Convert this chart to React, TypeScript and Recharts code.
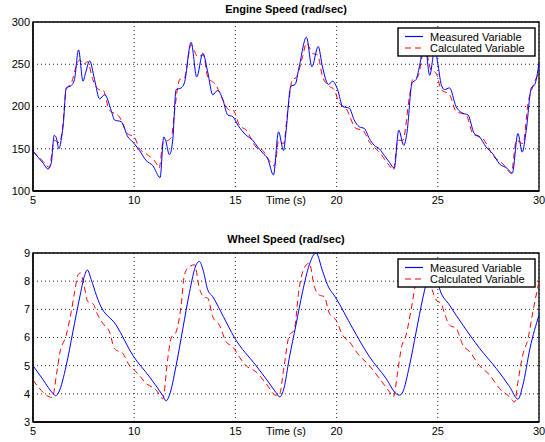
import React from "react";
import { CartesianGrid, Line, LineChart, ReferenceArea, XAxis, YAxis } from "recharts";

const timeTicks = [5, 10, 15, 20, 25, 30];
const engineTicks = [100, 150, 200, 250, 300];
const wheelTicks = [3, 4, 5, 6, 7, 8, 9];
const seriesNames = ["Measured Variable", "Calculated Variable"];

// [time (s), value]
const engineMeasured: [number, number][] = [
  [5, 147], [5.25, 140], [5.5, 133], [5.74, 126], [5.9, 133], [6.05, 166], [6.15, 163], [6.28, 150], [6.42, 165],
  [6.5, 180], [6.64, 222], [6.9, 225], [7.05, 232], [7.25, 267], [7.47, 230], [7.6, 240], [7.8, 254], [8.04, 232],
  [8.29, 209], [8.54, 214], [8.87, 195], [9.03, 184], [9.36, 182], [9.69, 164], [9.93, 158], [10.26, 148], [10.59, 136],
  [10.92, 130], [11.28, 116], [11.46, 164], [11.55, 160], [11.74, 143], [11.9, 159], [12.07, 220], [12.32, 222],
  [12.48, 228], [12.81, 276], [13.09, 235], [13.39, 263], [13.63, 241], [13.88, 214], [14.13, 219], [14.38, 208],
  [14.62, 190], [14.87, 188], [15.12, 178], [15.53, 166], [15.86, 160], [16.1, 152], [16.35, 145], [16.6, 138],
  [16.88, 119], [17.13, 170], [17.38, 148], [17.49, 168], [17.74, 224], [17.95, 226], [18.15, 247], [18.51, 282],
  [18.78, 247], [19.09, 271], [19.3, 247], [19.6, 226], [19.8, 230], [20.05, 220], [20.3, 200], [20.63, 198],
  [20.87, 184], [21.12, 176], [21.37, 174], [21.62, 162], [21.86, 154], [22.11, 150], [22.36, 142], [22.61, 134],
  [22.85, 127], [23.07, 172], [23.32, 154], [23.47, 168], [23.73, 228], [23.93, 232], [24.09, 247], [24.35, 278],
  [24.6, 237], [24.85, 268], [25.0, 251], [25.17, 226], [25.33, 220], [25.58, 222], [25.9, 200], [26.24, 192],
  [26.49, 190], [26.8, 168], [27.06, 164], [27.39, 152], [27.72, 144], [28.05, 132], [28.42, 127], [28.68, 121],
  [28.96, 168], [29.17, 146], [29.37, 172], [29.62, 222], [29.79, 226], [30, 251]
];

const engineCalculated: [number, number][] = [
  [5, 147], [5.5, 135], [5.8, 128], [6.05, 160], [6.3, 157], [6.45, 172], [6.64, 220], [6.9, 228], [7.2, 252],
  [7.3, 255], [7.5, 250], [7.7, 253], [7.95, 232], [8.29, 220], [8.45, 220], [8.77, 196], [9.26, 188], [9.67, 168],
  [10.0, 164], [10.26, 150], [10.59, 144], [11.09, 133], [11.23, 127], [11.43, 158], [11.68, 160], [11.84, 164],
  [12.0, 196], [12.25, 232], [12.48, 234], [12.81, 273], [13.14, 259], [13.42, 261], [13.63, 235], [14.05, 225],
  [14.3, 212], [14.71, 196], [14.87, 196], [15.2, 178], [15.53, 172], [16.02, 152], [16.35, 148], [16.68, 136],
  [16.9, 130], [17.0, 136], [17.13, 160], [17.38, 156], [17.57, 192], [17.82, 232], [17.99, 234], [18.32, 259],
  [18.51, 275], [18.81, 263], [19.06, 261], [19.31, 235], [19.64, 224], [19.88, 220], [20.13, 204], [20.46, 198],
  [20.96, 174], [21.29, 172], [21.62, 158], [22.11, 146], [22.61, 130], [22.81, 125], [23.02, 160], [23.27, 160],
  [23.6, 212], [23.76, 232], [24.01, 235], [24.35, 270], [24.67, 243], [24.9, 240], [25.17, 220], [25.58, 214],
  [25.91, 194], [26.4, 190], [26.73, 168], [27.23, 162], [27.72, 142], [28.22, 132], [28.63, 121], [28.88, 160],
  [29.21, 156], [29.46, 204], [29.7, 224], [30, 240]
];

const wheelMeasured: [number, number][] = [
  [5, 5.0], [5.5, 4.5], [6.0, 4.0], [6.12, 3.93], [6.28, 4.07], [6.64, 5.0], [6.97, 6.2], [7.3, 7.4], [7.55, 8.2],
  [7.68, 8.4], [7.88, 8.05], [8.13, 7.5], [8.29, 7.2], [9.11, 6.44], [9.93, 5.37], [10.76, 4.6], [11.4, 3.95],
  [11.58, 3.75], [11.74, 3.95], [12.07, 5.0], [12.4, 6.3], [12.73, 7.6], [13.06, 8.58], [13.22, 8.7], [13.42, 8.35],
  [13.63, 7.7], [13.88, 7.45], [14.4, 6.75], [14.95, 6.0], [16.02, 5.0], [16.6, 4.45], [17.0, 4.05], [17.19, 3.89],
  [17.4, 4.2], [17.66, 5.26], [17.99, 6.44], [18.32, 7.63], [18.65, 8.58], [18.98, 9.0], [19.31, 8.35], [19.55, 7.87],
  [19.97, 7.4], [20.79, 6.33], [21.62, 5.32], [22.44, 4.55], [22.95, 4.0], [23.1, 3.95], [23.27, 4.07], [23.6, 5.0],
  [23.93, 6.2], [24.26, 7.4], [24.42, 7.9], [24.7, 8.6], [24.9, 8.3], [25.08, 7.75], [25.58, 7.15], [26.24, 6.44],
  [27.06, 5.62], [27.89, 4.9], [28.55, 4.25], [28.96, 3.81], [29.2, 4.3], [29.55, 5.6], [30, 6.8]
];

const wheelCalculated: [number, number][] = [
  [5, 4.48], [5.2, 4.3], [5.66, 3.95], [5.95, 3.87], [6.18, 4.78], [6.32, 5.43], [6.64, 6.08], [6.89, 6.92],
  [7.06, 7.63], [7.22, 8.22], [7.34, 8.29], [7.5, 7.93], [7.71, 7.27], [7.96, 7.2], [8.2, 6.8], [8.45, 6.5],
  [8.78, 6.2], [9.03, 5.6], [9.44, 5.43], [9.77, 5.0], [10.1, 4.78], [10.59, 4.37], [11.09, 4.13], [11.41, 3.83],
  [11.66, 5.26], [11.82, 5.97], [12.07, 6.2], [12.32, 7.15], [12.48, 8.22], [12.73, 8.52], [12.98, 8.58],
  [13.22, 7.75], [13.42, 7.45], [13.63, 7.4], [13.88, 6.74], [14.21, 6.44], [14.54, 5.85], [14.87, 5.67],
  [15.2, 5.3], [15.53, 5.0], [16.02, 4.78], [16.51, 4.37], [17.0, 3.95], [17.16, 3.95], [17.41, 5.0], [17.66, 6.08],
  [17.9, 6.26], [18.15, 7.75], [18.4, 8.47], [18.65, 8.64], [18.9, 7.81], [19.14, 7.51], [19.39, 7.45], [19.64, 6.86],
  [19.97, 6.62], [20.3, 6.08], [20.63, 5.85], [21.04, 5.43], [21.62, 5.0], [22.11, 4.55], [22.61, 4.07], [22.8, 3.89],
  [23.02, 4.78], [23.19, 5.6], [23.43, 6.08], [23.68, 6.98], [23.93, 7.99], [24.2, 8.45], [24.4, 8.5], [24.67, 7.81],
  [24.92, 7.33], [25.17, 7.2], [25.33, 6.86], [25.58, 6.44], [25.91, 6.32], [26.24, 5.73], [26.57, 5.5], [27.06, 5.0],
  [27.56, 4.67], [28.05, 4.19], [28.55, 3.89], [28.8, 3.71], [28.96, 4.43], [29.2, 5.38], [29.46, 5.97], [29.7, 6.92],
  [30, 8.0]
];

const FONT = "'Liberation Sans', Arial, Helvetica, sans-serif";
const toRows = (pts: [number, number][]) => pts.map(([t, v]) => ({ t, v }));

function Legend({ top }: { top: number }) {
  return (
    <svg width={139} height={30} style={{ position: "absolute", left: 397, top }}>
      <rect x={1} y={1} width={137} height={28} fill="#fff" stroke="#000" strokeWidth={1.4} />
      <line x1={8} x2={26} y1={9.5} y2={9.5} stroke="#0000ff" strokeWidth={1.2} />
      <line x1={8} x2={26} y1={21} y2={21} stroke="#ff0000" strokeWidth={1.2} strokeDasharray="6 4" />
      <text x={33} y={9.5} dominantBaseline="central" fontSize={11} fontFamily={FONT} fill="#000">{seriesNames[0]}</text>
      <text x={33} y={21} dominantBaseline="central" fontSize={11} fontFamily={FONT} fill="#000">{seriesNames[1]}</text>
    </svg>
  );
}

function Panel({
  top,
  marginTop,
  xHeight,
  title,
  titleTop,
  measured,
  calculated,
  yTicks
}: {
  top: number;
  marginTop: number;
  xHeight: number;
  title: string;
  titleTop: number;
  measured: [number, number][];
  calculated: [number, number][];
  yTicks: number[];
}) {
  const yMin = yTicks[0];
  const yMax = yTicks[yTicks.length - 1];
  const tickStyle = { fill: "#000", fontSize: 11, fontFamily: FONT };

  return (
    <div style={{ position: "absolute", left: 0, top, width: 545, height: 221 }}>
      <div
        style={{
          position: "absolute",
          left: 33,
          width: 506,
          top: titleTop,
          textAlign: "center",
          fontFamily: FONT,
          fontWeight: "bold",
          fontSize: 11,
          lineHeight: "12px"
        }}
      >
        {title}
      </div>
      <LineChart width={545} height={221} margin={{ top: marginTop, right: 6, bottom: 0, left: 0 }}>
        <CartesianGrid stroke="#222" strokeDasharray="1 3" />
        <XAxis
          type="number"
          dataKey="t"
          domain={[5, 30]}
          ticks={timeTicks}
          height={xHeight}
          tickLine={false}
          tickSize={0}
          tickMargin={5}
          axisLine={{ stroke: "#000", strokeWidth: 1.3 }}
          tick={tickStyle}
          allowDuplicatedCategory={false}
          label={{ value: "Time (s)", position: "bottom", offset: 5 - xHeight, fill: "#000", fontSize: 11, fontFamily: FONT }}
        />
        <YAxis
          type="number"
          domain={[yMin, yMax]}
          ticks={yTicks}
          width={33}
          tickLine={false}
          tickSize={0}
          tickMargin={3}
          axisLine={{ stroke: "#000", strokeWidth: 1.3 }}
          tick={tickStyle}
        />
        <ReferenceArea x1={5} x2={30} y1={yMin} y2={yMax} fill="none" stroke="#000" strokeWidth={1.3} />
        <Line
          data={toRows(calculated)}
          dataKey="v"
          type="monotone"
          stroke="#ff0000"
          strokeWidth={1}
          strokeDasharray="6 4"
          dot={false}
          isAnimationActive={false}
        />
        <Line
          data={toRows(measured)}
          dataKey="v"
          type="monotone"
          stroke="#0000ff"
          strokeWidth={1}
          dot={false}
          isAnimationActive={false}
        />
      </LineChart>
      <Legend top={marginTop + 5} />
    </div>
  );
}

export default function App() {
  return (
    <div style={{ position: "absolute", left: 0, top: 0, width: 545, height: 442, background: "#fff", overflow: "hidden" }}>
      <Panel
        top={0}
        marginTop={22}
        xHeight={30}
        title="Engine Speed (rad/sec)"
        titleTop={3}
        measured={engineMeasured}
        calculated={engineCalculated}
        yTicks={engineTicks}
      />
      <Panel
        top={221}
        marginTop={32}
        xHeight={20}
        title="Wheel Speed (rad/sec)"
        titleTop={12}
        measured={wheelMeasured}
        calculated={wheelCalculated}
        yTicks={wheelTicks}
      />
    </div>
  );
}
